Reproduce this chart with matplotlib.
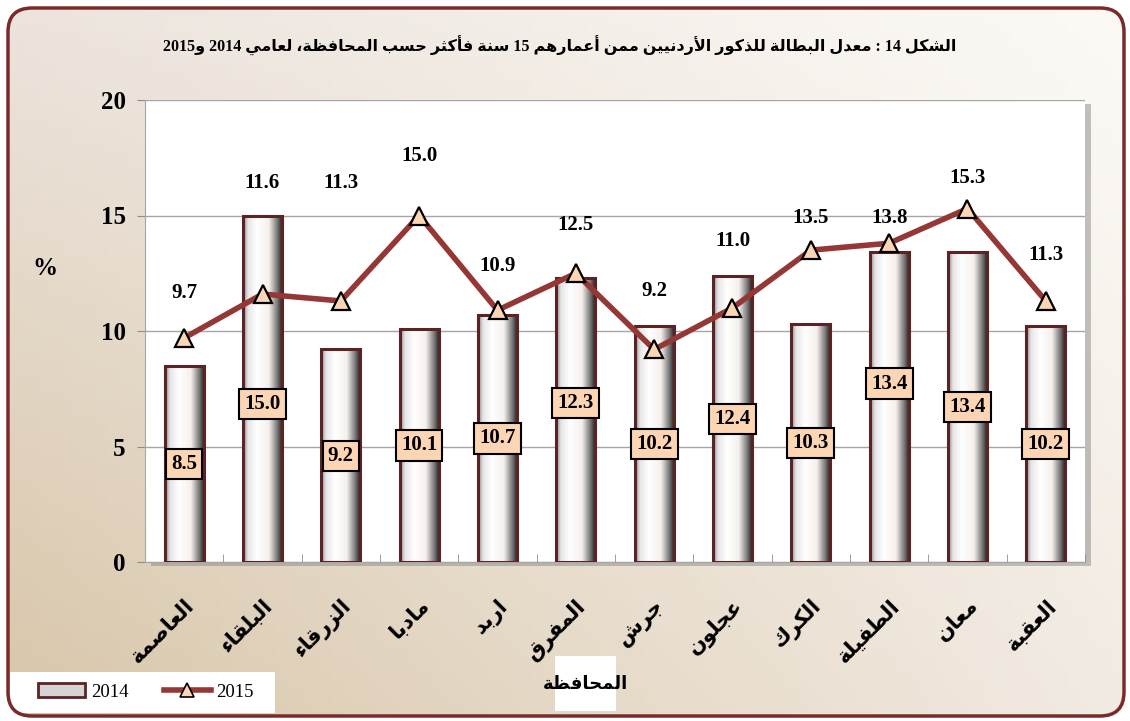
import re

import numpy as np
import matplotlib
matplotlib.use("Agg")
import matplotlib.pyplot as plt
from matplotlib.patches import Rectangle, FancyBboxPatch
from matplotlib.lines import Line2D
from matplotlib.colors import LinearSegmentedColormap, to_rgb
from matplotlib import patheffects


TITLE = "الشكل 14 : معدل البطالة للذكور الأردنيين ممن أعمارهم 15 سنة فأكثر حسب المحافظة، لعامي 2014 و2015"
X_LABEL = "المحافظة"
Y_LABEL = "%"
CATEGORIES = ["العاصمة", "البلقاء", "الزرقاء", "مادبا", "اربد", "المفرق",
              "جرش", "عجلون", "الكرك", "الطفيلة", "معان", "العقبة"]
RATE_2014 = [8.5, 15.0, 9.2, 10.1, 10.7, 12.3, 10.2, 12.4, 10.3, 13.4, 13.4, 10.2]
RATE_2015 = [9.7, 11.6, 11.3, 15.0, 10.9, 12.5, 9.2, 11.0, 13.5, 13.8, 15.3, 11.3]
Y_TICKS = [0, 5, 10, 15, 20]
SERIES_NAMES = ["2014", "2015"]

LINE_COLOR = "#953735"
BAR_EDGE = "#5b2323"
PEACH = "#FCD5B4"
SERIF = ["Liberation Serif", "DejaVu Sans"]
ARABIC = ["DejaVu Sans"]


# ----------------------------------------
# minimal arabic shaping (matplotlib has no complex text layout)
# ----------------------------------------
DUAL = {0x626: 0xFE89, 0x628: 0xFE8F, 0x62A: 0xFE95, 0x62B: 0xFE99, 0x62C: 0xFE9D,
        0x62D: 0xFEA1, 0x62E: 0xFEA5, 0x633: 0xFEB1, 0x634: 0xFEB5, 0x635: 0xFEB9,
        0x636: 0xFEBD, 0x637: 0xFEC1, 0x638: 0xFEC5, 0x639: 0xFEC9, 0x63A: 0xFECD,
        0x641: 0xFED1, 0x642: 0xFED5, 0x643: 0xFED9, 0x644: 0xFEDD, 0x645: 0xFEE1,
        0x646: 0xFEE5, 0x647: 0xFEE9, 0x64A: 0xFEF1}
RIGHT = {0x622: 0xFE81, 0x623: 0xFE83, 0x624: 0xFE85, 0x625: 0xFE87, 0x627: 0xFE8D,
         0x629: 0xFE93, 0x62F: 0xFEA9, 0x630: 0xFEAB, 0x631: 0xFEAD, 0x632: 0xFEAF,
         0x648: 0xFEED, 0x649: 0xFEEF}
ISOLATED = {0x621: 0xFE80}
LAM_ALEF = {0x622: 0xFEF5, 0x623: 0xFEF7, 0x625: 0xFEF9, 0x627: 0xFEFB}


def shape(text):
    out = []
    prev_joins = False
    i = 0
    while i < len(text):
        o = ord(text[i])
        nxt = ord(text[i + 1]) if i + 1 < len(text) else 0
        if o == 0x644 and nxt in LAM_ALEF:
            out.append(chr(LAM_ALEF[nxt] + (1 if prev_joins else 0)))
            prev_joins = False
            i += 2
            continue
        if o in DUAL:
            next_joins = nxt in DUAL or nxt in RIGHT
            base = DUAL[o]
            if prev_joins and next_joins:
                g = base + 3
            elif prev_joins:
                g = base + 1
            elif next_joins:
                g = base + 2
            else:
                g = base
            out.append(chr(g))
            prev_joins = next_joins
        elif o in RIGHT:
            out.append(chr(RIGHT[o] + (1 if prev_joins else 0)))
            prev_joins = False
        elif o in ISOLATED:
            out.append(chr(ISOLATED[o]))
            prev_joins = False
        else:
            out.append(text[i])
            prev_joins = False
        i += 1
    return "".join(out)


def ar(text):
    tokens = re.findall(r"[0-9]+|[^0-9]+", shape(text))
    return "".join(t if t[0].isdigit() else t[::-1] for t in reversed(tokens))


def main():
    fig = plt.figure(figsize=(11.3, 7.21), dpi=100)

    # ----------------------------------------
    # BACKGROUND PANEL
    # ----------------------------------------
    bg = fig.add_axes([0, 0, 1, 1], zorder=-10)
    bg.set_xlim(0, 1130)
    bg.set_ylim(721, 0)
    bg.axis("off")

    ny, nx = 60, 100
    yy, xx = np.mgrid[0:1:ny * 1j, 0:1:nx * 1j]
    tl, tr = np.array(to_rgb("#ECE4DD")), np.array(to_rgb("#FDFAF6"))
    bl, br = np.array(to_rgb("#D8C6A9")), np.array(to_rgb("#F2EBE3"))
    grad = ((1 - xx)[..., None] * (1 - yy)[..., None] * tl + xx[..., None] * (1 - yy)[..., None] * tr
            + (1 - xx)[..., None] * yy[..., None] * bl + xx[..., None] * yy[..., None] * br)
    panel = FancyBboxPatch((8, 8), 1116, 708, boxstyle="round,pad=0,rounding_size=24",
                           fc="none", ec="#7a2a2a", lw=2.5, zorder=3)
    bg.add_patch(panel)
    img = bg.imshow(grad, extent=[8, 1124, 716, 8], aspect="auto", zorder=1)
    img.set_clip_path(panel)

    bg.add_patch(Rectangle((10, 672), 265, 41, fc="white", ec="none", zorder=2))
    bg.add_patch(Rectangle((555, 656), 61, 55, fc="white", ec="none", zorder=2))

    # ----------------------------------------
    # PLOT AREA
    # ----------------------------------------
    ax = fig.add_axes([145 / 1130, 159 / 721, 940 / 1130, 462 / 721])
    ax.patch.set_facecolor("white")
    ax.patch.set_path_effects([
        patheffects.SimplePatchShadow(offset=(4, -3), shadow_rgbFace="#8a8a8a", alpha=0.5),
        patheffects.Normal(),
    ])

    x = np.arange(len(CATEGORIES))
    width = 0.5

    bar_cmap = LinearSegmentedColormap.from_list(
        "cyl",
        [(0.0, "#8c8c8c"), (0.12, "#e6e6e6"), (0.35, "#ffffff"), (0.65, "#f6f0ec"),
         (0.86, "#7c7c7c"), (1.0, "#1c1c1c")],
    )
    strip = np.linspace(0, 1, 64)[None, :]
    for xi, h in zip(x, RATE_2014):
        rect = Rectangle((xi - width / 2, 0), width, h, fc="none", ec=BAR_EDGE, lw=2.2, zorder=3)
        ax.add_patch(rect)
        im = ax.imshow(strip, cmap=bar_cmap, extent=[xi - width / 2, xi + width / 2, 0, h],
                       aspect="auto", zorder=2)
        im.set_clip_path(rect)

    ax.plot(x, RATE_2015, color=LINE_COLOR, lw=4, marker="^", ms=13,
            mfc=PEACH, mec="black", mew=1.6, zorder=5)

    # bar labels in the middle of each bar (a few nudged like the original)
    bar_nudge = [0, -11, 0, 0, 0, 12, 0, 0, 0, 17, 0, 0]
    for xi, h, dy in zip(x, RATE_2014, bar_nudge):
        ax.annotate(f"{h:.1f}", (xi, h / 2), xytext=(0, dy), textcoords="offset points",
                    ha="center", va="center", fontsize=15, fontweight="bold", family=SERIF,
                    bbox=dict(boxstyle="square,pad=0.25", fc=PEACH, ec="black", lw=1.5),
                    zorder=6)

    # line labels above the points
    line_lift = [32, 80, 85, 43, 32, 35, 42, 48, 23, 18, 22, 33]
    for xi, v, dy in zip(x, RATE_2015, line_lift):
        ax.annotate(f"{v:.1f}", (xi, v), xytext=(0, dy), textcoords="offset points",
                    ha="center", va="center", fontsize=15, fontweight="bold", family=SERIF,
                    zorder=6)

    ax.set_xlim(-0.5, len(CATEGORIES) - 0.5)
    ax.set_ylim(0, 20)
    ax.set_yticks(Y_TICKS)
    ax.set_yticklabels([str(t) for t in Y_TICKS], fontsize=18, fontweight="bold", family=SERIF)
    ax.yaxis.grid(True, color="#a6a6a6", lw=1)
    ax.set_axisbelow(True)
    ax.tick_params(axis="y", length=6, color="#8c8c8c", pad=8)

    ax.set_xticks(x)
    ax.set_xticklabels([ar(c) for c in CATEGORIES], rotation=45, ha="right", va="top",
                       rotation_mode="anchor", fontsize=15, fontweight="bold", family=ARABIC)
    ax.set_xticks(np.arange(len(CATEGORIES) + 1) - 0.5, minor=True)
    ax.tick_params(axis="x", which="major", length=0, pad=24)
    ax.tick_params(axis="x", which="minor", length=6, direction="in", color="#8c8c8c")

    for side in ["top", "right"]:
        ax.spines[side].set_visible(False)
    for side in ["left", "bottom"]:
        ax.spines[side].set_color("#a6a6a6")

    # ----------------------------------------
    # TEXTS + LEGEND
    # ----------------------------------------
    fig.text(560 / 1130, 1 - 46 / 721, ar(TITLE), ha="center", va="center",
             fontsize=11.5, fontweight="bold", family=SERIF)
    fig.text(45 / 1130, 1 - 268 / 721, Y_LABEL, ha="center", va="center",
             fontsize=18, fontweight="bold", family=SERIF)
    fig.text(585 / 1130, 1 - 684 / 721, ar(X_LABEL), ha="center", va="center",
             fontsize=13, fontweight="bold", family=ARABIC)

    handles = [
        Rectangle((0, 0), 1, 1, fc="#d4d4d4", ec=BAR_EDGE, lw=2),
        Line2D([], [], color=LINE_COLOR, lw=4, marker="^", ms=10, mfc=PEACH, mec="black", mew=1.2),
    ]
    fig.legend(handles, SERIES_NAMES, loc="center", bbox_to_anchor=(146 / 1130, 1 - 692 / 721),
               ncol=2, frameon=False, prop={"family": SERIF, "size": 13.5},
               handlelength=2.5, handleheight=0.7, handletextpad=0.3, columnspacing=1.9)

    fig.savefig("out.png", dpi=100)


if __name__ == "__main__":
    main()
